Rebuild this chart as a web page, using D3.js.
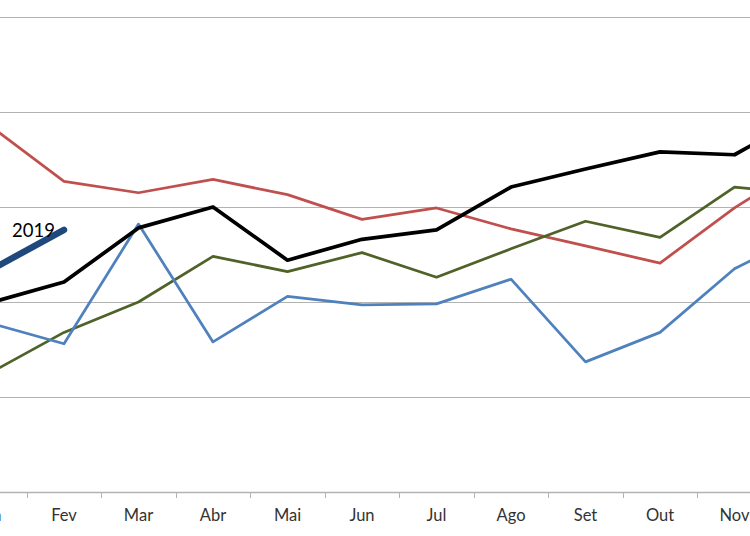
<!DOCTYPE html>
<html>
<head>
<meta charset="utf-8">
<script src="https://cdn.jsdelivr.net/npm/d3@7"></script>
<style>
  html, body { margin: 0; padding: 0; background: #fff; overflow: hidden; }
  svg { display: block; }
</style>
</head>
<body>
<svg id="chart" width="750" height="536"></svg>
<script>
const months = ["Jan", "Fev", "Mar", "Abr", "Mai", "Jun", "Jul", "Ago", "Set", "Out", "Nov", "Dez"];
const yTicks = [0, 1, 2, 3, 4, 5];

const seriesRed   = [3.86, 3.27, 3.15, 3.29, 3.13, 2.87, 2.99, 2.77, 2.59, 2.41, 2.99, 3.49];
const seriesGreen = [1.25, 1.68, 2.00, 2.48, 2.32, 2.52, 2.26, 2.56, 2.85, 2.68, 3.21, 3.13];
const seriesBlue  = [1.78, 1.56, 2.82, 1.58, 2.06, 1.97, 1.98, 2.24, 1.37, 1.68, 2.35, 2.74];
const seriesBlack = [1.99, 2.21, 2.78, 3.00, 2.44, 2.66, 2.76, 3.21, 3.40, 3.58, 3.55, 3.99];
const series2019  = [2.33, 2.76];
const label2019 = "2019";

const svg = d3.select("#chart");
const W = 750;

const x = d3.scaleBand().domain(months).range([-47.75, 846.25]).paddingInner(0).paddingOuter(0);
const y = d3.scaleLinear().domain([0, 5]).range([492, 17]);
const cx = m => x(m) + x.bandwidth() / 2;

// gridlines
svg.append("g").selectAll("line")
  .data(yTicks.slice(1))
  .join("line")
  .attr("x1", 0).attr("x2", W)
  .attr("y1", d => Math.round(y(d)) + 0.5).attr("y2", d => Math.round(y(d)) + 0.5)
  .attr("stroke", "#b2b2b2").attr("stroke-width", 1.2);

// x axis
const xAxis = d3.axisBottom(x).tickSize(0).tickPadding(0);
const gx = svg.append("g").attr("transform", `translate(0,${y(0)})`).call(xAxis);
gx.select(".domain").remove();
gx.selectAll(".tick text")
  .attr("y", 17)
  .attr("font-family", "Lato, 'Open Sans', sans-serif")
  .attr("font-size", 16.5)
  .attr("fill", "#333");
svg.append("line")
  .attr("x1", 0).attr("x2", W)
  .attr("y1", y(0) + 0.5).attr("y2", y(0) + 0.5)
  .attr("stroke", "#b2b2b2").attr("stroke-width", 1.5);
// tick marks between categories
svg.append("g").selectAll("line")
  .data(months.slice(1))
  .join("line")
  .attr("x1", d => Math.round(x(d)) + 0.5).attr("x2", d => Math.round(x(d)) + 0.5)
  .attr("y1", y(0)).attr("y2", y(0) + 6)
  .attr("stroke", "#b2b2b2").attr("stroke-width", 1);

const line = d3.line().x((d, i) => cx(months[i])).y(d => y(d));

const draw = (data, color, width, cap) => svg.append("path")
  .datum(data)
  .attr("d", line)
  .attr("fill", "none")
  .attr("stroke", color)
  .attr("stroke-width", width)
  .attr("stroke-linejoin", "round")
  .attr("stroke-linecap", cap || "round");

draw(seriesRed, "#C0504D", 2.75);
draw(seriesGreen, "#4F6228", 2.75);
draw(seriesBlue, "#4F81BD", 2.75);
draw(seriesBlack, "#000000", 3.75);
draw(series2019, "#1F497D", 6.5);

svg.append("text")
  .attr("x", 12).attr("y", 237)
  .attr("font-family", "Lato, 'Open Sans', sans-serif")
  .attr("font-size", 18.5)
  .attr("fill", "#000")
  .text(label2019);
</script>
</body>
</html>
